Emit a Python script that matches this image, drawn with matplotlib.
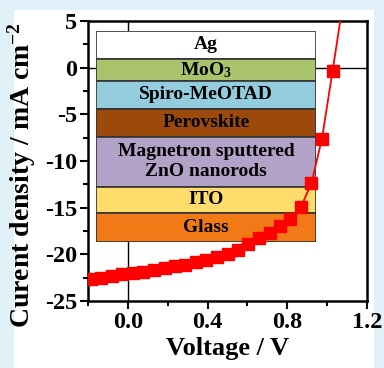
import matplotlib
matplotlib.use("Agg")
import matplotlib.pyplot as plt
from matplotlib.patches import Rectangle
from matplotlib.ticker import MultipleLocator

# ---- data ----
voltage = [-0.238, -0.185, -0.133, -0.080, -0.027, 0.025, 0.078, 0.131, 0.184,
           0.236, 0.289, 0.342, 0.394, 0.447, 0.500, 0.552, 0.605, 0.658,
           0.711, 0.763, 0.816, 0.869, 0.921, 0.974, 1.027, 1.080]
current = [-22.85, -22.65, -22.50, -22.35, -22.15, -22.00, -21.85, -21.70, -21.50,
           -21.30, -21.10, -20.85, -20.60, -20.30, -19.95, -19.50, -18.90, -18.20,
           -17.70, -17.00, -16.20, -14.90, -12.40, -7.60, -0.40, 7.00]

layers = ["Ag", "MoO$_3$", "Spiro-MeOTAD", "Perovskite",
          "Magnetron sputtered\nZnO nanorods", "ITO", "Glass"]
thickness = [28, 22, 28, 28, 50, 26, 29]
layer_colors = ["#ffffff", "#a9c46c", "#93cddd", "#9c4a0c", "#b3a2c7", "#fddc6c", "#f27a16"]

xticks = [0.0, 0.4, 0.8, 1.2]
yticks = [5, 0, -5, -10, -15, -20, -25]

plt.rcParams['font.family'] = ['Liberation Serif', 'DejaVu Serif']
plt.rcParams['font.weight'] = 'bold'
plt.rcParams['mathtext.fontset'] = 'custom'
plt.rcParams['mathtext.rm'] = 'Liberation Serif:bold'
plt.rcParams['mathtext.it'] = 'Liberation Serif:bold'
plt.rcParams['mathtext.bf'] = 'Liberation Serif:bold'

W, H = 384, 368
fig = plt.figure(figsize=(W / 100, H / 100), dpi=100, facecolor="#e1f1f9")
fig.patches.append(Rectangle((14 / W, 0), (374 - 14) / W, 1 - 10 / H,
                             transform=fig.transFigure, facecolor="white",
                             edgecolor="none", zorder=0))

ax = fig.add_axes([88 / W, 1 - 301 / H, (367 - 88) / W, (301 - 21) / H])
ax.set_xlim(-0.2, 1.2)
ax.set_ylim(-25, 5)

ax.axhline(0, color="black", lw=1.0, zorder=1)
ax.axvline(0, color="black", lw=1.0, zorder=1)

curve, = ax.plot(voltage, current, color="#ff0000", lw=1.3, marker="s", ms=8,
                 mec="#ff0000", mfc="#ff0000", zorder=7, clip_on=True)

ax.set_xticks(xticks)
ax.set_xticklabels([f"{v:.1f}" for v in xticks])
ax.set_yticks(yticks)
ax.set_yticklabels([str(v) for v in yticks])
ax.xaxis.set_minor_locator(MultipleLocator(0.2))
ax.yaxis.set_minor_locator(MultipleLocator(2.5))
ax.tick_params(which="both", labelsize=17.5, width=1.5, pad=2, direction="out")
ax.tick_params(which="major", length=6)
ax.tick_params(which="minor", length=3.5)
for s in ax.spines.values():
    s.set_linewidth(1.8)

# inward ticks on top and right
axt = ax.twiny()
axt.set_xlim(ax.get_xlim())
axt.set_xticks(xticks)
axt.xaxis.set_minor_locator(MultipleLocator(0.2))
axt.tick_params(axis="x", which="both", direction="in", labeltop=False, width=1.5)
axt.tick_params(axis="x", which="major", length=6)
axt.tick_params(axis="x", which="minor", length=3.5)
axr = ax.twinx()
axr.set_ylim(ax.get_ylim())
axr.set_yticks(yticks)
axr.yaxis.set_minor_locator(MultipleLocator(2.5))
axr.tick_params(axis="y", which="both", direction="in", labelright=False, width=1.5)
axr.tick_params(axis="y", which="major", length=6)
axr.tick_params(axis="y", which="minor", length=3.5)
for a in (axt, axr):
    a.set_zorder(0)
    for s in a.spines.values():
        s.set_visible(False)
ax.set_zorder(1)
ax.patch.set_visible(False)

ax.set_xlabel("Voltage / V", fontsize=19, fontweight="bold", labelpad=3)
ax.set_ylabel("Curent density / mA cm$^{-2}$", fontsize=20, fontweight="bold")
ax.yaxis.set_label_coords(-0.18, 0.45)

# ---- inset: device structure ----
ins = ax.inset_axes([-0.16, -18.64, 0.945 + 0.16, 3.96 + 18.64], transform=ax.transData)
ins.set_zorder(5)
total = sum(thickness)
bottom = total
for name, t, c in zip(layers, thickness, layer_colors):
    bottom -= t
    ins.bar(0.5, t, width=1.0, bottom=bottom, color=c, edgecolor="#333333", lw=1.2)
    ins.text(0.5, bottom + t / 2, name, ha="center", va="center", fontsize=14,
             fontweight="bold", linespacing=1.2)
ins.set_xlim(0, 1)
ins.set_ylim(0, total)
ins.axis("off")

fig.savefig("out.png", dpi=100, facecolor=fig.get_facecolor())
